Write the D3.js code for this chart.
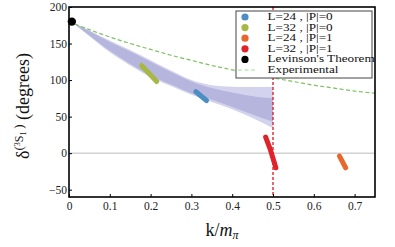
<!DOCTYPE html>
<html>
<head>
<meta charset="utf-8">
<script src="https://cdn.jsdelivr.net/npm/d3@7/dist/d3.min.js"></script>
<style>
  html, body { margin: 0; padding: 0; background: #fff; }
  svg { display: block; font-family: "Liberation Serif", "DejaVu Serif", serif; }
</style>
</head>
<body>
<svg id="chart" width="395" height="247"></svg>
<script>
// phase shift data
const bandK = [0.007, 0.05, 0.1, 0.15, 0.2, 0.25, 0.3, 0.35, 0.4, 0.45, 0.5];
const outerHi = [179.5, 168, 154, 141, 127, 113, 100, 93, 91, 90.5, 91];
const outerLo = [179, 160, 138, 120, 104, 92, 80, 70, 60, 48, 34];
const innerHi = [179.5, 167, 152, 139, 125, 111, 98, 89, 83, 78, 75];
const innerLo = [179, 161, 140, 122, 106, 94, 82, 73, 63, 53, 43];

const expK = [0, 0.05, 0.1, 0.15, 0.2, 0.25, 0.3, 0.35, 0.4, 0.45, 0.5, 0.55, 0.6, 0.65, 0.7, 0.75];
const expDelta = [180, 169, 159, 150, 142, 134, 127, 120, 114, 108, 103, 98, 93, 89, 85, 82];

const series = [
  { name: 'L=24 , |P|=0', color: '#4b8ec4', k: [0.311, 0.337], d: [84, 72] },
  { name: 'L=32 , |P|=0', color: '#a9b844', k: [0.178, 0.215], d: [120, 98] },
  { name: 'L=24 , |P|=1', color: '#e8672c', k: [0.663, 0.678], d: [-4, -20] },
  { name: 'L=32 , |P|=1', color: '#e0222a', k: [0.482, 0.494, 0.507], d: [22, 4, -20] },
];
const levinson = { name: "Levinson's Theorem", k: 0.007, d: 180 };

const xTicks = [0, 0.1, 0.2, 0.3, 0.4, 0.5, 0.6, 0.7];
const yTicks = [-50, 0, 50, 100, 150, 200];

const svg = d3.select('#chart');
const m = { left: 69, right: 375, top: 7, bottom: 197 };
const x = d3.scaleLinear().domain([0, 0.75]).range([m.left, m.right]);
const y = d3.scaleLinear().domain([-60, 200]).range([m.bottom, m.top]);

const plot = svg.append('g');

// band (outer lighter, inner darker)
const area = (hi, lo) => d3.area()
  .x((k) => x(k))
  .y0((k, i) => y(lo[i]))
  .y1((k, i) => y(hi[i]))
  .curve(d3.curveMonotoneX)(bandK);
plot.append('path').attr('d', area(outerHi, outerLo)).attr('fill', '#d3d3ee');
plot.append('path').attr('d', area(innerHi, innerLo)).attr('fill', '#b5b5de');

// zero line
plot.append('line')
  .attr('x1', x(0)).attr('x2', x(0.75))
  .attr('y1', y(0)).attr('y2', y(0))
  .attr('stroke', '#bbbbbb').attr('stroke-width', 1);

// experimental curve
plot.append('path')
  .attr('d', d3.line().x((k) => x(k)).y((k, i) => y(expDelta[i])).curve(d3.curveMonotoneX)(expK))
  .attr('fill', 'none').attr('stroke', '#7dc160').attr('stroke-width', 1.2)
  .attr('stroke-dasharray', '4,2.5');

// threshold line
plot.append('line')
  .attr('x1', x(0.5)).attr('x2', x(0.5))
  .attr('y1', y(200)).attr('y2', y(-60))
  .attr('stroke', '#e8212b').attr('stroke-width', 1.4)
  .attr('stroke-dasharray', '3,2');

// lattice points as elongated blobs
series.forEach((s) => {
  plot.append('path')
    .attr('d', d3.line().x((k) => x(k)).y((k, i) => y(s.d[i]))(s.k))
    .attr('fill', 'none').attr('stroke', s.color)
    .attr('stroke-width', 5).attr('stroke-linecap', 'round').attr('stroke-linejoin', 'round');
});

plot.append('circle')
  .attr('cx', x(levinson.k)).attr('cy', y(levinson.d)).attr('r', 4.2).attr('fill', '#000');

// frame
svg.append('rect')
  .attr('x', m.left).attr('y', m.top).attr('width', m.right - m.left).attr('height', m.bottom - m.top)
  .attr('fill', 'none').attr('stroke', '#000').attr('stroke-width', 1.6);

// axes (ticks inward)
const xAxis = svg.append('g').attr('transform', `translate(0,${m.bottom})`)
  .call(d3.axisBottom(x).tickValues(xTicks).tickSizeInner(-3).tickSizeOuter(0)
    .tickFormat((d) => (d === 0 ? '0' : d3.format('.1f')(d))));
const yAxis = svg.append('g').attr('transform', `translate(${m.left},0)`)
  .call(d3.axisLeft(y).tickValues(yTicks).tickSizeInner(-3).tickSizeOuter(0)
    .tickFormat((d) => (d < 0 ? '\u2212' + Math.abs(d) : d)));
[xAxis, yAxis].forEach((a) => {
  a.select('.domain').remove();
  a.selectAll('.tick line').attr('stroke', '#000').attr('stroke-width', 1);
  a.selectAll('.tick text').attr('font-family', '"Liberation Serif", serif')
    .attr('font-size', 11.5).attr('fill', '#222');
});
xAxis.selectAll('.tick text').attr('y', 5).attr('dy', '0.71em');
yAxis.selectAll('.tick text').attr('x', -2).attr('dy', '0.32em');

// axis titles
const xl = svg.append('text').attr('x', 222).attr('y', 236)
  .attr('text-anchor', 'middle').attr('font-size', 18).attr('fill', '#111');
xl.append('tspan').text('k/');
xl.append('tspan').attr('font-style', 'italic').text('m');
xl.append('tspan').attr('font-style', 'italic').attr('font-size', 12).attr('dy', 3).text('\u03c0');

const yl = svg.append('text')
  .attr('transform', 'translate(29,106) rotate(-90)')
  .attr('text-anchor', 'middle').attr('font-size', 18).attr('fill', '#111');
yl.append('tspan').text('\u03b4');
yl.append('tspan').attr('font-size', 13).attr('dy', -6).text('(');
yl.append('tspan').attr('font-size', 8).attr('dy', -3).text('3');
yl.append('tspan').attr('font-size', 12).attr('dy', 3).text('S');
yl.append('tspan').attr('font-size', 8).attr('dy', 3).text('1');
yl.append('tspan').attr('font-size', 13).attr('dy', -3).text('\u2009)');
yl.append('tspan').attr('font-size', 18).attr('dy', 6).text(' (degrees)');

// legend
const lg = svg.append('g');
lg.append('rect').attr('x', 236).attr('y', 11).attr('width', 136).attr('height', 67)
  .attr('fill', '#fff').attr('stroke', '#444').attr('stroke-width', 1);
const entries = series.map((s) => ({ name: s.name, color: s.color, type: 'dot' }))
  .concat([{ name: levinson.name, color: '#000', type: 'dot' },
           { name: 'Experimental', color: '#a9d89a', type: 'dash' }]);
entries.forEach((e, i) => {
  const cy = 17 + i * 10.6;
  if (e.type === 'dot') {
    lg.append('circle').attr('cx', 245).attr('cy', cy).attr('r', 3.6).attr('fill', e.color);
  } else {
    lg.append('line').attr('x1', 238).attr('x2', 256).attr('y1', cy).attr('y2', cy)
      .attr('stroke', e.color).attr('stroke-width', 1.2).attr('stroke-dasharray', '4,2.5');
  }
  // the original legend text is stretched wide and squat
  lg.append('text').attr('transform', `translate(267.5,${cy}) scale(1.2,0.85)`)
    .attr('dy', '0.33em').attr('font-size', 11).attr('fill', '#111').text(e.name);
});
</script>
</body>
</html>
